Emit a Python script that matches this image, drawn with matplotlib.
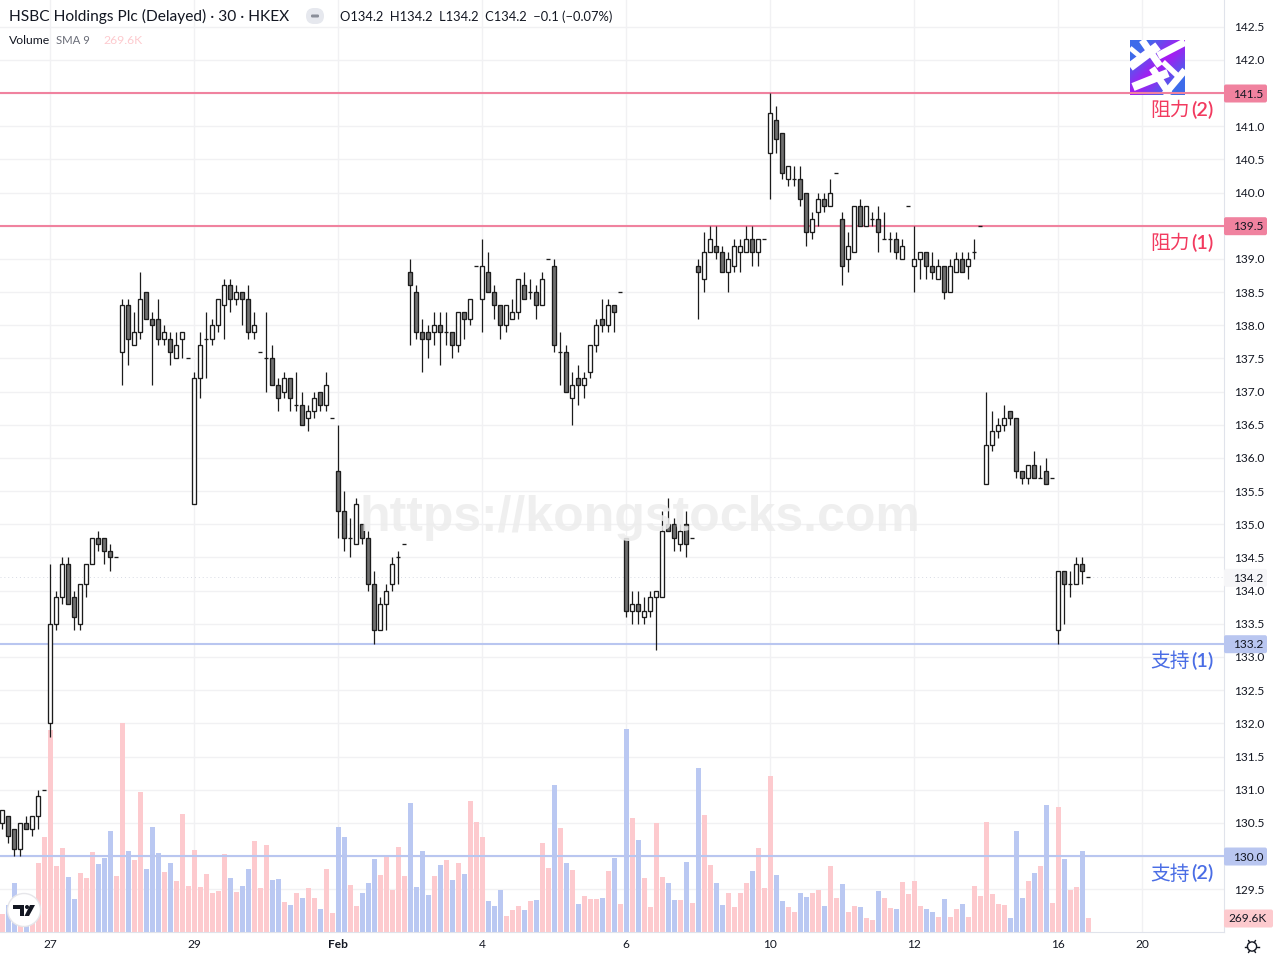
import numpy as np
import matplotlib
matplotlib.use("Agg")
import matplotlib.pyplot as plt
from matplotlib.patches import FancyBboxPatch, Circle, Polygon

plt.rcParams['font.family'] = ['Lato', 'DejaVu Sans']

opens = [130.5,130.6,130.4,130.1,130.5,130.4,130.6,131.0,132.0,133.5,
    133.9,134.4,133.9,133.5,134.1,134.4,134.8,134.8,134.6,134.5,
    137.6,138.3,137.7,137.9,138.5,138.1,138.1,137.8,137.8,137.5,
    137.8,137.5,135.3,137.2,137.8,137.8,138.0,138.3,138.6,138.4,
    138.5,138.4,137.9,137.6,137.5,137.5,137.1,137.0,137.2,136.8,
    136.8,136.6,136.7,137.0,136.8,136.6,135.8,135.2,134.8,134.7,
    135.0,134.8,134.1,133.4,133.8,134.1,134.5,134.7,138.8,138.5,
    137.9,137.9,137.9,138.0,137.9,137.9,137.7,138.2,138.1,138.9,
    138.4,138.8,138.5,138.3,138.0,138.1,138.2,138.6,138.5,138.5,
    138.3,139.0,138.9,137.6,137.6,136.9,137.2,137.1,137.3,137.7,
    138.1,138.0,138.3,138.5,134.8,133.7,133.8,133.6,133.7,133.9,
    133.9,135.0,135.0,134.7,135.0,134.8,138.9,138.7,139.1,139.2,
    139.1,138.8,138.9,139.1,139.1,139.3,139.1,139.3,140.6,141.1,
    140.9,140.2,140.2,140.2,140.0,139.4,139.7,139.9,139.8,140.3,
    139.6,139.0,139.1,139.8,139.5,139.6,139.6,139.3,139.3,139.3,
    139.0,139.8,138.9,139.0,139.1,138.9,138.7,138.9,138.5,138.8,
    139.0,138.9,139.1,139.5,135.6,136.2,136.4,136.5,136.7,136.6,
    135.8,135.7,135.9,135.7,135.8,135.7,133.4,134.3,134.1,134.1,
    134.4,134.2]
highs = [130.7,130.6,130.4,130.5,130.6,130.6,131.0,131.0,134.4,134.0,
    134.5,134.5,134.0,134.1,134.4,134.8,134.9,134.8,134.7,134.5,
    138.4,138.4,138.2,138.8,138.5,138.2,138.4,138.0,137.9,137.9,
    137.9,137.5,137.3,137.9,138.2,138.1,138.4,138.7,138.7,138.6,
    138.5,138.6,138.2,137.6,138.2,137.7,137.2,137.3,137.2,137.3,
    137.0,136.8,137.0,137.0,137.3,136.6,136.5,135.5,135.1,135.4,
    135.0,134.9,134.3,133.9,134.1,134.5,134.6,134.7,139.0,138.6,
    138.1,138.0,138.2,138.2,138.2,137.9,138.2,138.2,138.4,138.9,
    139.3,139.1,138.6,138.3,138.3,138.4,138.7,138.8,138.7,138.6,
    138.8,139.0,139.0,137.9,137.7,137.3,137.4,137.3,137.7,138.1,
    138.4,138.4,138.3,138.5,134.8,134.0,134.0,133.9,134.0,134.0,
    135.2,135.4,135.1,135.0,135.2,134.8,139.0,139.4,139.5,139.5,
    139.2,139.1,139.3,139.3,139.5,139.5,139.3,139.3,141.5,141.3,
    140.9,140.4,140.4,140.4,140.0,139.7,140.0,140.0,140.2,140.3,
    139.7,139.4,139.8,139.9,139.8,139.7,139.8,139.7,139.4,139.4,
    139.3,139.8,139.5,139.1,139.1,139.1,139.0,138.9,139.0,139.1,
    139.1,139.1,139.3,139.5,137.0,136.7,136.6,136.8,136.7,136.6,
    135.8,135.9,136.1,135.9,136.0,135.7,134.3,134.3,134.3,134.5,
    134.5,134.2]
lows = [130.4,130.2,130.0,130.0,130.4,130.3,130.4,131.0,131.8,133.4,
    133.8,133.8,133.4,133.4,133.9,134.4,134.6,134.4,134.3,134.5,
    137.1,137.4,137.7,137.8,138.1,137.1,137.7,137.7,137.4,137.5,
    137.5,137.5,135.3,136.9,137.2,137.7,137.9,137.8,138.2,138.3,
    138.0,137.8,137.8,137.6,137.0,137.1,136.7,136.9,136.7,136.7,
    136.5,136.4,136.6,136.7,136.7,136.6,134.8,134.6,134.5,134.7,
    134.7,134.0,133.2,133.4,133.4,134.0,134.1,134.7,137.7,137.8,
    137.3,137.5,137.7,137.4,137.7,137.5,137.6,137.8,138.0,138.9,
    137.9,138.5,138.1,137.8,137.9,138.1,138.1,138.4,138.4,138.1,
    138.3,139.0,137.6,137.1,137.0,136.5,136.8,136.9,137.2,137.6,
    137.9,137.9,137.9,138.5,133.6,133.5,133.5,133.5,133.6,133.1,
    133.9,134.9,134.6,134.6,134.5,134.8,138.1,138.5,139.1,139.0,
    138.8,138.5,138.8,138.8,139.1,138.9,138.9,139.3,139.9,140.6,
    140.2,140.1,140.1,139.8,139.2,139.3,139.5,139.7,139.8,140.3,
    138.6,138.8,139.1,139.5,139.5,139.5,139.1,139.3,139.1,139.0,
    139.0,139.8,138.5,138.7,138.7,138.7,138.7,138.4,138.5,138.8,
    138.8,138.7,139.0,139.5,135.6,136.1,136.3,136.4,136.5,135.7,
    135.6,135.6,135.7,135.7,135.6,135.7,133.2,133.5,133.9,134.1,
    134.1,134.2]
closes = [130.7,130.3,130.1,130.5,130.4,130.6,130.9,131.0,133.5,133.9,
    134.4,133.8,133.6,134.1,134.4,134.8,134.7,134.6,134.5,134.5,
    138.3,137.8,137.9,138.4,138.1,138.0,137.8,137.9,137.6,137.7,
    137.9,137.5,137.2,137.7,137.8,138.0,138.4,138.6,138.4,138.5,
    138.4,137.9,138.0,137.6,137.5,137.1,136.9,137.2,136.9,136.8,
    136.5,136.7,136.9,136.8,137.1,136.6,135.2,134.8,134.8,135.3,
    134.8,134.1,133.4,133.8,134.0,134.4,134.5,134.7,138.6,137.9,
    137.8,137.8,138.0,137.9,137.9,137.7,138.2,138.1,138.4,138.9,
    138.9,138.5,138.3,138.0,138.3,138.2,138.7,138.4,138.5,138.3,
    138.7,139.0,137.7,137.6,137.0,137.1,137.1,137.2,137.7,138.0,
    138.0,138.3,138.2,138.5,133.7,133.8,133.7,133.7,133.9,134.0,
    134.9,134.9,134.8,134.9,134.7,134.8,138.8,139.1,139.3,139.1,
    138.8,139.0,139.2,139.2,139.3,139.1,139.3,139.3,141.2,140.8,
    140.3,140.4,140.2,139.9,139.4,139.6,139.9,139.8,140.0,140.3,
    138.9,139.2,139.8,139.5,139.8,139.6,139.4,139.3,139.3,139.1,
    139.2,139.8,139.0,139.1,138.9,138.8,138.9,138.5,138.9,139.0,
    138.8,139.0,139.1,139.5,136.2,136.4,136.5,136.6,136.6,135.8,
    135.7,135.9,135.7,135.7,135.6,135.7,134.3,134.1,134.1,134.4,
    134.3,134.2]
volumes = [347,520,944,135,289,578,1329,1830,3891,1271,
    1618,1059,636,1136,1040,1541,1310,1425,1945,1079,
    4025,1560,1387,2696,1213,2022,1522,1156,1329,982,
    2273,886,1579,867,1117,751,790,1502,1040,770,
    886,1213,1753,847,1676,1002,1021,578,520,751,
    655,847,655,443,1213,366,2022,1830,905,501,
    751,944,1406,1098,1483,809,1637,1079,2485,867,
    1560,713,1079,1290,1387,1002,1329,1117,2523,2119,
    1830,597,501,809,308,424,501,424,597,616,
    1714,1233,2831,2003,1329,1194,539,693,636,636,
    655,1175,1425,539,3910,2196,1772,1040,482,2099,
    1059,944,616,616,1348,559,3159,2253,1290,944,
    520,751,482,751,944,1175,1618,847,3005,1098,
    597,482,385,751,674,751,809,501,1271,655,
    924,385,501,482,270,231,790,655,462,443,
    963,732,982,501,443,385,289,636,289,443,
    539,289,886,693,2119,732,539,520,270,1945,
    655,982,1136,1271,2446,559,2408,1406,809,867,
    1560,269.6]
vol_side = ("pbbpbppppp" "pbbpppbbbp" "pbppbbbpbp" "ppppppppbp" "bbpppbbpbp"
    "bppbppbbpp" "bbbpppppbb" "bbpbpbpbpp" "pbbbpppbpb" "ppbpbpbppp"
    "bpbpbpbppp" "pbbpbpbppb" "bppppbpppb" "bppbbppbpp" "bppbppbppb"
    "ppppbbpbpp" "bpppppppbb" "bpbpbppbpp" "bp")

date_pos = [8, 32, 56, 80, 104, 128, 152, 176, 190]
date_labels = ["27", "29", "Feb", "4", "6", "10", "12", "16", "20"]
price_ticks = [129.5 + 0.5 * k for k in range(27)]
levels = [141.5, 139.5, 133.2, 130.0]
level_names = ["阻力", "阻力", "支持", "支持"]
level_nums = ["(2)", "(1)", "(1)", "(2)"]
last_price = 134.2
last_volume = "269.6K"

RED_LINE = "#f0829f"
BLUE_LINE = "#b9c6f0"
RED_TXT = "#f23a5f"
BLUE_TXT = "#4a6de5"
PINK = "#fdcace"
BLUE = "#bac8f2"
DARK = "#131722"

W, H = 1280, 960
fig = plt.figure(figsize=(W / 100, H / 100), dpi=100, facecolor="white")
rect = [0, (H - 932) / H, 1224 / W, 932 / H]
xlim = (-2.5 / 6, 1221.5 / 6)
xlim_candles = (-2.25 / 6, 1221.75 / 6)  # keeps body edges on whole pixels
ylim = (128.855, 142.902)


def py(p):
    return 93 + (141.5 - p) * 66.35


# grid at the bottom, then volume, then candles
ax = fig.add_axes(rect, zorder=0)
ax.set_xlim(xlim_candles)
ax.set_ylim(ylim)
ax.set_xticks(date_pos)
ax.set_xticklabels(date_labels, fontsize=8.6, color=DARK)
ax.get_xticklabels()[2].set_fontweight("bold")
ax.yaxis.tick_right()
ax.set_yticks(price_ticks)
ax.set_yticklabels(["" if p in levels else "%.1f" % p for p in price_ticks],
                   fontsize=8.6, color=DARK)
ax.tick_params(axis="x", length=0, pad=5)
ax.tick_params(axis="y", length=0, pad=7.5)
ax.grid(True, color="#f1f1f3", lw=1)
ax.set_axisbelow(True)
for s in ["top", "left"]:
    ax.spines[s].set_visible(False)
for s in ["right", "bottom"]:
    ax.spines[s].set_color("#e0e3eb")

axv = fig.add_axes(rect, zorder=1)
axv.patch.set_alpha(0)
axv.axis("off")
axv.set_xlim(xlim)
axv.set_ylim(0, 932 * 19.26)
idx = np.arange(len(volumes))
vol_colors = [PINK if s == "p" else BLUE for s in vol_side]
axv.bar(idx, volumes, width=0.83, color=vol_colors, linewidth=0)

axp = fig.add_axes(rect, zorder=2)
axp.patch.set_alpha(0)
axp.axis("off")
axp.set_xlim(xlim_candles)
axp.set_ylim(ylim)
for lv, c in zip(levels, [RED_LINE, RED_LINE, BLUE_LINE, BLUE_LINE]):
    axp.axhline(lv, color=c, lw=1.5, zorder=1)
axp.axhline(last_price, color="#d8dbe3", lw=0.7, ls=(0, (1, 3)), zorder=1)

axp.vlines(idx, lows, highs, color="#1c1c1c", lw=0.9, zorder=2)
body_bottom = np.minimum(opens, closes)
body_height = np.abs(np.array(closes) - np.array(opens))
body_colors = ["#ffffff" if c >= o else "#707070" for o, c in zip(opens, closes)]
axp.bar(idx, body_height, bottom=body_bottom, width=4 / 6, color=body_colors,
        edgecolor="#1c1c1c", linewidth=0.95, zorder=3)

# page overlay in pixels
ov = fig.add_axes([0, 0, 1, 1], zorder=5)
ov.patch.set_alpha(0)
ov.axis("off")
ov.set_xlim(0, W)
ov.set_ylim(H, 0)

ov.text(640, 518, "https://kongstocks.com", family="Liberation Sans", weight="bold",
        fontsize=36, color="#ededed", alpha=0.88, ha="center", va="center")


def tag(y, txt, bg, x0=1224, w=44, col=DARK):
    ov.add_patch(FancyBboxPatch((x0 + 1, y - 7.5), w - 3, 16, boxstyle="round,pad=1,rounding_size=2",
                                fc=bg, ec="none"))
    ov.text(x0 + 24, y + 1, txt, fontsize=8.6, color=col, ha="center", va="center")


tag(py(141.5), "141.5", RED_LINE)
tag(py(139.5), "139.5", RED_LINE)
tag(py(133.2), "133.2", BLUE_LINE)
tag(py(130.0), "130.0", BLUE_LINE)
tag(py(last_price), "134.2", "#f6f6f8")
tag(918, last_volume, PINK, w=50)

cjk = ["Noto Sans CJK SC", "DejaVu Sans"]
for lv, name, num, col in zip(levels, level_names, level_nums,
                              [RED_TXT, RED_TXT, BLUE_TXT, BLUE_TXT]):
    ov.text(1190, py(lv) + 18, name, family=cjk, fontsize=14.2, color=col,
            ha="right", va="center")
    ov.text(1214, py(lv) + 17, num, fontsize=14.2, weight="semibold", color=col,
            ha="right", va="center")

# header
ov.text(9, 16.5, "HSBC Holdings Plc (Delayed) · 30 · HKEX", fontsize=11.15, color=DARK, va="center")
ov.add_patch(FancyBboxPatch((306, 8), 18, 16, boxstyle="round,pad=0,rounding_size=8",
                            fc="#e6e8ee", ec="none"))
ov.add_patch(FancyBboxPatch((311, 14.5), 8, 3, boxstyle="round,pad=0,rounding_size=1.2",
                            fc="#8a8e99", ec="none"))
ov.text(340, 16.5, "O134.2  H134.2  L134.2  C134.2  −0.1 (−0.07%)", fontsize=9.25, color=DARK, va="center")
ov.text(9, 40.5, "Volume", fontsize=8.8, color=DARK, va="center")
ov.text(56, 40.5, "SMA 9", fontsize=8.2, color="#6a6d78", va="center")
ov.text(103, 40.5, last_volume, fontsize=8.8, color=PINK, va="center")

# settings gear next to the time axis
ov.add_patch(Circle((1252, 946.5), 4.6, fc="none", ec=DARK, lw=1))
for a in np.arange(0, 360, 60):
    ov.plot([1252 + 4.6 * np.cos(np.radians(a)), 1252 + 6.8 * np.cos(np.radians(a))],
            [946.5 + 4.6 * np.sin(np.radians(a)), 946.5 + 6.8 * np.sin(np.radians(a))],
            color=DARK, lw=1)

# TradingView badge
ov.add_patch(Circle((24, 910), 16.5, fc="white", ec="#e6e6ea", lw=1))
ov.add_patch(Polygon([(13, 905), (24, 905), (24, 916), (20, 916), (20, 909), (13, 909)], fc=DARK, ec="none"))
ov.add_patch(Circle((27, 907), 2, fc=DARK, ec="none"))
ov.add_patch(Polygon([(30, 905), (35, 905), (29, 916), (24.5, 916)], fc=DARK, ec="none"))

# purple logo with white strokes
logo = fig.add_axes([1130 / W, 1 - 95 / H, 55 / W, 55 / H], zorder=1.5)
gx, gy = np.meshgrid(np.linspace(-1, 1, 55), np.linspace(-1, 1, 55))
mix = np.clip(np.abs(gx + gy) * 0.75, 0, 1)[..., None]
img = (1 - mix) * np.array([0.66, 0.1, 0.95]) + mix * np.array([0.24, 0.42, 0.92])
logo.imshow(img, extent=(0, 55, 55, 0), aspect="auto")
for x0, y0, x1, y1, lw in [(0, 27, 28, 6, 6.5), (3, 47, 38, 33, 6), (12, 0, 30, 26, 5),
                           (28, 16, 55, 2, 5.5), (34, 55, 55, 30, 5), (22, 28, 40, 55, 5),
                           (33, 22, 50, 38, 4), (0, 8, 12, 18, 3.5)]:
    logo.plot([x0, x1], [y0, y1], color="white", lw=lw, solid_capstyle="butt")
logo.set_xlim(0, 55)
logo.set_ylim(55, 0)
logo.axis("off")

fig.savefig("out.png", dpi=100)
